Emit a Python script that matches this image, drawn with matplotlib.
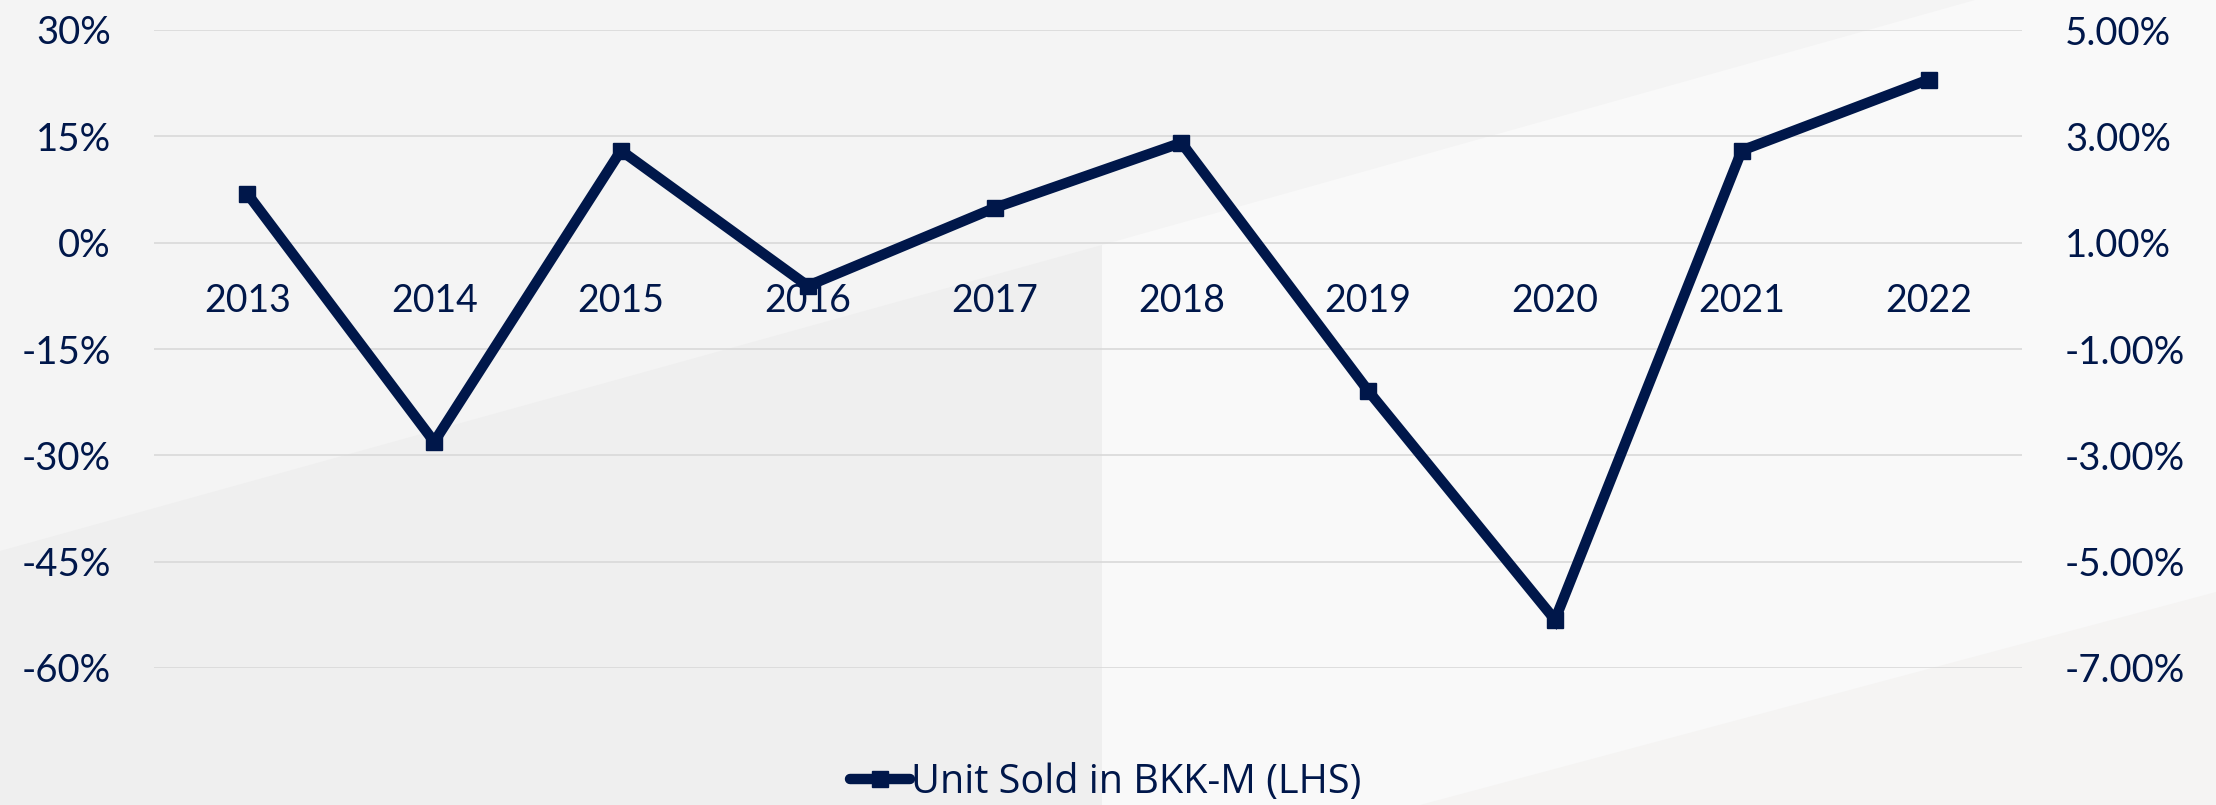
import matplotlib.pyplot as plt
import numpy as np
from matplotlib.patches import Polygon
from matplotlib.ticker import FixedLocator, FuncFormatter

years = ["2013", "2014", "2015", "2016", "2017", "2018", "2019", "2020", "2021", "2022"]
unit_sold_growth = [6.9, -28.1, 13.0, -6.1, 4.9, 14.1, -20.9, -53.2, 13.0, 23.0]
series_label = "Unit Sold in BKK-M (LHS)"

left_ticks = [-60, -45, -30, -15, 0, 15, 30]
right_ticks = [-7, -5, -3, -1, 1, 3, 5]

NAVY = "#00174A"
GRID = "#D9D9D9"
W, H = 2216, 805

plt.rcParams["font.family"] = ["Lato", "DejaVu Sans"]

fig = plt.figure(figsize=(W / 100, H / 100), dpi=100)
fig.patch.set_facecolor("#F4F4F4")


def px(points):
    # pixel coords (from top-left) -> figure fraction
    return [(x / W, 1 - y / H) for x, y in points]


# decorative background panels, kept below the axes
panels = [
    ([(0, 551), (1102, 245), (1102, 805), (0, 805)], "#EFEFEF"),
    ([(1102, 245), (1975, 0), (2216, 0), (2216, 805), (1102, 805)], "#F9F9F9"),
    ([(1420, 805), (2216, 592), (2216, 805)], "#F5F4F3"),
]
for pts, col in panels:
    fig.patches.append(Polygon(px(pts), closed=True, transform=fig.transFigure,
                               facecolor=col, edgecolor="none", zorder=-5))

ax = fig.add_axes([154 / W, 1 - 668 / H, (2022 - 154) / W, (668 - 30) / H])
ax.set_facecolor("none")

x = np.arange(len(years))
ax.plot(x, unit_sold_growth, color=NAVY, linewidth=7.5, marker="s", markersize=11.5,
        solid_joinstyle="miter", label=series_label, zorder=5)

ax.set_xlim(-0.5, len(years) - 0.5)
ax.set_ylim(-60, 30)
ax.yaxis.set_major_locator(FixedLocator(left_ticks))
ax.yaxis.set_major_formatter(FuncFormatter(lambda v, _: f"{v:.0f}%"))
ax.grid(axis="y", color=GRID, linewidth=1.2, zorder=0)
ax.grid(axis="x", visible=False)

ax.set_xticks(x)
ax.set_xticklabels(years)
ax.spines["bottom"].set_position(("data", 0))
for side in ["top", "right", "left", "bottom"]:
    ax.spines[side].set_visible(False)
ax.tick_params(axis="x", length=0, pad=29, labelsize=27, labelcolor=NAVY)
ax.tick_params(axis="y", length=0, pad=31, labelsize=27.5, labelcolor=NAVY)

ax2 = ax.twinx()
ax2.set_ylim(-7, 5)
ax2.yaxis.set_major_locator(FixedLocator(right_ticks))
ax2.yaxis.set_major_formatter(FuncFormatter(lambda v, _: f"{v:.2f}%"))
for side in ["top", "right", "left", "bottom"]:
    ax2.spines[side].set_visible(False)
ax2.tick_params(axis="y", length=0, pad=31, labelsize=27.5, labelcolor=NAVY)

handles, labels = ax.get_legend_handles_labels()
leg = fig.legend(handles, labels, loc="lower center", bbox_to_anchor=(1106 / W, 0.0),
                 borderpad=0.0, borderaxespad=0.05,
                 frameon=False, handlelength=1.5, handletextpad=0.05,
                 prop={"family": ["Open Sans", "DejaVu Sans"], "size": 28.5})
for t in leg.get_texts():
    t.set_color(NAVY)
for h in leg.legend_handles:
    h.set_solid_capstyle("round")

fig.savefig("out.png", dpi=100, facecolor=fig.get_facecolor())
